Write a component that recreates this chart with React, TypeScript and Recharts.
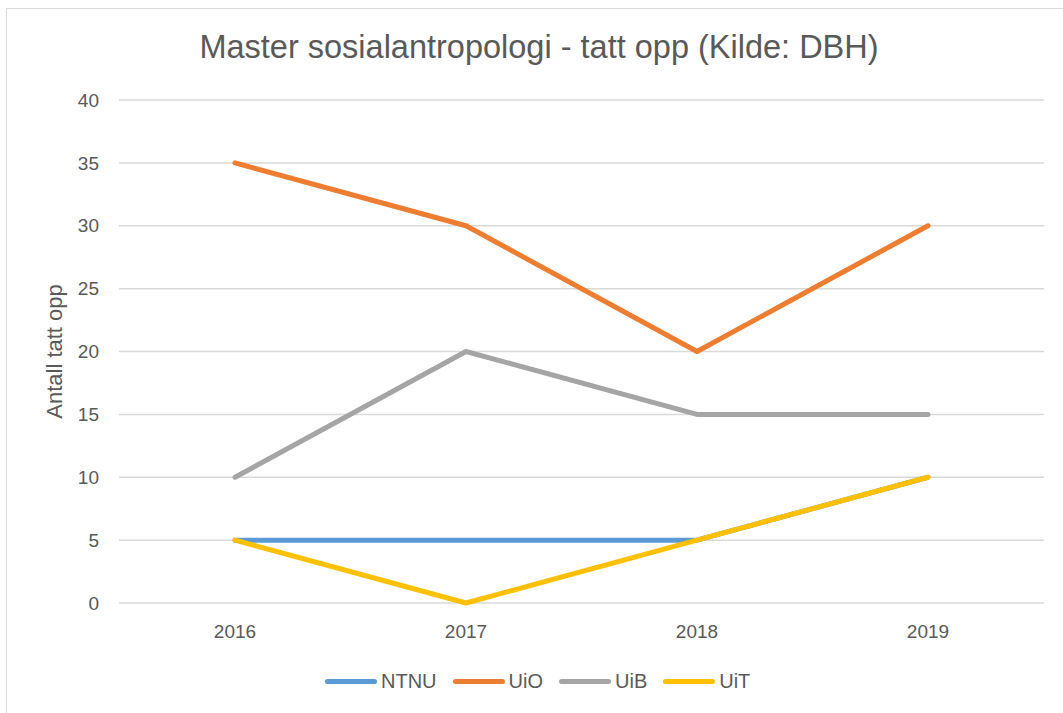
import React from 'react';
import { LineChart, Line, XAxis, YAxis, CartesianGrid } from 'recharts';

const years = ['2016', '2017', '2018', '2019'];
const ntnu = [5, 5, 5, 10];
const uio = [35, 30, 20, 30];
const uib = [10, 20, 15, 15];
const uit = [5, 0, 5, 10];
const yTicks = [0, 5, 10, 15, 20, 25, 30, 35, 40];

const series = [
  { key: 'NTNU', values: ntnu, color: '#5B9BD5' },
  { key: 'UiO', values: uio, color: '#ED7D31' },
  { key: 'UiB', values: uib, color: '#A5A5A5' },
  { key: 'UiT', values: uit, color: '#FFC000' },
];

const data = years.map((year, i) => {
  const row: Record<string, string | number> = { year };
  series.forEach(s => { row[s.key] = s.values[i]; });
  return row;
});

const FONT = '"Liberation Sans", Arial, sans-serif';
const TEXT = '#595959';

const App: React.FC = () => {
  return (
    <div style={{ position: 'absolute', left: 0, top: 0, width: 1063, height: 713, background: '#fff', overflow: 'hidden', fontFamily: FONT }}>
      {/* chart area border, cropped on right/bottom like the source */}
      <div style={{ position: 'absolute', left: 6, top: 8, width: 1070, height: 720, border: '1px solid #D9D9D9' }} />
      <div style={{ position: 'absolute', left: 0, top: 29, width: 1078, textAlign: 'center', fontSize: 32.5, color: TEXT }}>
        Master sosialantropologi - tatt opp (Kilde: DBH)
      </div>
      <div style={{ position: 'absolute', left: 0, top: 0 }}>
        <LineChart width={1063} height={713} data={data} margin={{ top: 100, right: 19, bottom: 80, left: 0 }}>
          <CartesianGrid vertical={false} stroke="#D9D9D9" strokeWidth={1.5} />
          <XAxis
            dataKey="year"
            axisLine={false}
            tickLine={false}
            height={30}
            padding={{ left: 116, right: 116 }}
            tick={{ fill: TEXT, fontSize: 19, fontFamily: FONT }}
            dy={14}
          />
          <YAxis
            domain={[0, 40]}
            ticks={yTicks}
            width={119}
            axisLine={false}
            tickLine={false}
            tick={{ fill: TEXT, fontSize: 19, fontFamily: FONT }}
            dx={-12}
            label={{ value: 'Antall tatt opp', angle: -90, position: 'insideLeft', offset: 0, dx: 54, style: { fill: TEXT, fontSize: 22, fontFamily: FONT, textAnchor: 'middle' } }}
          />
          {series.map(s => (
            <Line
              key={s.key}
              dataKey={s.key}
              stroke={s.color}
              strokeWidth={5}
              strokeLinecap="round"
              strokeLinejoin="round"
              dot={false}
              activeDot={false}
              isAnimationActive={false}
            />
          ))}
        </LineChart>
      </div>
      {/* legend */}
      <div style={{ position: 'absolute', left: 325, top: 670, display: 'flex', alignItems: 'center', fontSize: 20, color: TEXT }}>
        {series.map(s => (
          <div key={s.key} style={{ display: 'flex', alignItems: 'center', marginRight: 16 }}>
            <div style={{ width: 52, height: 5, borderRadius: 3, background: s.color, marginRight: 4 }} />
            <span>{s.key}</span>
          </div>
        ))}
      </div>
    </div>
  );
};

export default App;
